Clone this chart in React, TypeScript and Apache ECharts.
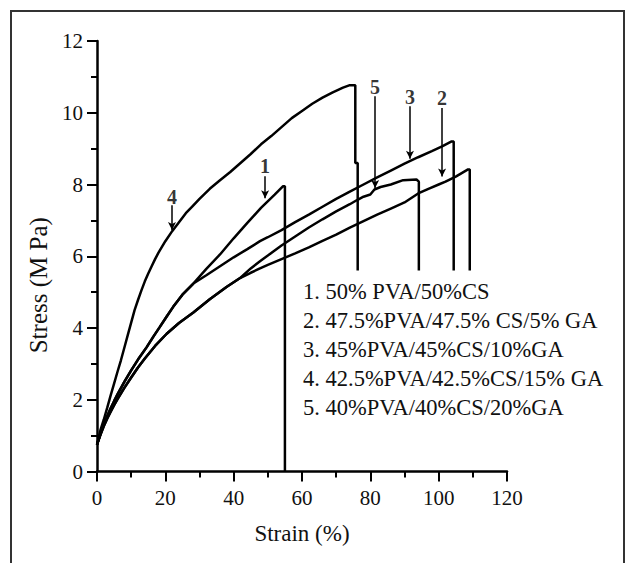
import { useEffect, useRef } from "react";
import * as echarts from "echarts";

// Stress (MPa) vs strain (%) curves
const curve1: [number, number][] = [
  [0, 0.75], [1, 1.05], [2, 1.32], [3, 1.55], [4, 1.76], [5, 1.96], [6, 2.15], [8, 2.5], [10, 2.82], [12, 3.12],
  [14.5, 3.46], [16.5, 3.76], [18.4, 4.03], [20.4, 4.32], [22.3, 4.59], [25, 4.93], [28.2, 5.24],
  [32, 5.65], [36, 6.05], [40, 6.5], [44, 6.93], [48, 7.35], [52, 7.72], [54.4, 7.95], [55, 7.95], [55, 0],
];
const curve2: [number, number][] = [
  [0, 0.75], [1, 1.02], [2, 1.27], [3, 1.48], [4, 1.67], [5, 1.85], [6, 2.02], [8, 2.33], [10, 2.62], [12, 2.9],
  [14, 3.15], [17, 3.5], [20.4, 3.84], [24, 4.14], [28.2, 4.43], [33, 4.8], [38, 5.15], [42, 5.4],
  [45, 5.54], [47.7, 5.66], [50, 5.76], [54, 5.92], [58, 6.08], [62, 6.25], [66, 6.43], [70, 6.6], [74, 6.8],
  [78, 6.98], [82, 7.16], [86, 7.33], [90, 7.5], [94, 7.75], [97, 7.88], [100, 8.0], [102, 8.08], [105, 8.22],
  [108.6, 8.42], [109.1, 8.42], [109.1, 5.6],
];
const curve3: [number, number][] = [
  [0, 0.75], [1, 1.05], [2, 1.32], [3, 1.55], [4, 1.76], [5, 1.96], [6, 2.15], [8, 2.5], [10, 2.82], [12, 3.12],
  [14.5, 3.46], [16.5, 3.76], [18.4, 4.03], [20.4, 4.32], [22.3, 4.59], [25, 4.93], [28.2, 5.24],
  [32, 5.47], [36, 5.72], [40, 5.97], [44, 6.2], [47.7, 6.42], [50, 6.53], [54, 6.73], [58, 6.95], [62, 7.16],
  [66, 7.38], [70, 7.6], [74, 7.8], [78, 8.0], [82, 8.2], [86, 8.39], [90, 8.58], [94, 8.76], [98, 8.93],
  [101, 9.06], [103.8, 9.2], [104.4, 9.2], [104.4, 5.6],
];
const curve4: [number, number][] = [
  [0, 0.75], [1, 1.15], [2, 1.45], [3, 1.78], [4, 2.12], [5, 2.45], [6, 2.78], [7, 3.1], [8, 3.45], [9, 3.8],
  [10, 4.15], [11, 4.5], [12, 4.78], [13, 5.05], [14, 5.3], [15, 5.52], [16, 5.72], [17, 5.92], [18, 6.1],
  [20, 6.42], [22, 6.7], [24, 6.95], [26, 7.2], [28, 7.4], [30, 7.6], [33, 7.88], [36, 8.12], [39, 8.35],
  [42, 8.6], [45, 8.85], [48, 9.12], [51, 9.35], [54, 9.6], [57, 9.85], [60, 10.05], [63, 10.25], [66, 10.42],
  [69, 10.57], [72, 10.7], [74, 10.77], [75.6, 10.77], [75.6, 8.6], [76.3, 8.6], [76.3, 5.6],
];
const curve5: [number, number][] = [
  [0, 0.75], [1, 1.02], [2, 1.27], [3, 1.48], [4, 1.67], [5, 1.85], [6, 2.02], [8, 2.33], [10, 2.62], [12, 2.9],
  [14, 3.15], [17, 3.5], [20.4, 3.84], [24, 4.14], [28.2, 4.43], [33, 4.8], [38, 5.15], [42, 5.4],
  [45, 5.66], [47.7, 5.86], [50, 6.02], [54, 6.3], [58, 6.55], [62, 6.8], [66, 7.03], [70, 7.25], [74, 7.45],
  [76, 7.56], [78, 7.66], [80, 7.72], [81.2, 7.86], [83, 7.93], [86, 8.0], [89.6, 8.12], [93.5, 8.14],
  [94.2, 8.08], [94.2, 5.6],
];

const curves = [curve1, curve2, curve3, curve4, curve5];

const legendLines = [
  "1. 50% PVA/50%CS",
  "2. 47.5%PVA/47.5% CS/5% GA",
  "3. 45%PVA/45%CS/10%GA",
  "4. 42.5%PVA/42.5%CS/15% GA",
  "5. 40%PVA/40%CS/20%GA",
];

// Curve number annotations with arrows
const annotationLabels = ["4", "1", "5", "3", "2"];
const annotationStrain = [21.95, 49.2, 81.4, 91.6, 101.0];
const annotationLabelStress = [7.65, 8.51, 10.71, 10.43, 10.4];
const arrowStartStress = [7.42, 8.23, 10.46, 10.18, 10.13];
const arrowTipStress = [6.73, 7.62, 7.9, 8.72, 8.22];

const SERIF = "Liberation Serif";

export default function App() {
  const ref = useRef<HTMLDivElement>(null);

  useEffect(() => {
    const chart = echarts.init(ref.current!, null, { renderer: "svg" });

    const lineSeries = curves.map((c, i) => ({
      name: legendLines[i],
      type: "line",
      data: c,
      showSymbol: false,
      symbol: "none",
      lineStyle: { color: "#000", width: 2.5 },
      z: 3,
    }));

    const option: any = {
      animation: false,
      backgroundColor: "#fff",
      textStyle: { fontFamily: SERIF },
      grid: { left: 97, right: 119, top: 41, bottom: 91.5, containLabel: false },
      xAxis: {
        type: "value",
        min: 0,
        max: 120,
        interval: 20,
        name: "Strain (%)",
        nameLocation: "middle",
        nameGap: 50,
        nameTextStyle: { fontFamily: SERIF, fontSize: 23, color: "#111" },
        axisLine: { show: true, onZero: false, lineStyle: { color: "#000", width: 2.5 } },
        axisTick: { show: true, length: 10, lineStyle: { color: "#000", width: 2 } },
        minorTick: { show: true, splitNumber: 2, length: 6, lineStyle: { color: "#000", width: 2 } },
        splitLine: { show: false },
        axisLabel: { fontFamily: SERIF, fontSize: 21, color: "#111", margin: 16 },
      },
      yAxis: {
        type: "value",
        min: 0,
        max: 12,
        interval: 2,
        name: "Stress (M Pa)",
        nameLocation: "middle",
        nameGap: 46,
        nameTextStyle: { fontFamily: SERIF, fontSize: 25, color: "#111", padding: [0, 58, 0, 0] },
        axisLine: { show: true, onZero: false, lineStyle: { color: "#000", width: 2.5 } },
        axisTick: { show: true, length: 10, lineStyle: { color: "#000", width: 2 } },
        minorTick: { show: true, splitNumber: 2, length: 6, lineStyle: { color: "#000", width: 2 } },
        splitLine: { show: false },
        axisLabel: { fontFamily: SERIF, fontSize: 21, color: "#111", margin: 14 },
      },
      series: [
        ...lineSeries,
        {
          type: "scatter",
          name: "annotations",
          symbol: "circle",
          symbolSize: 1,
          itemStyle: { color: "rgba(0,0,0,0)" },
          silent: true,
          z: 5,
          data: annotationLabels.map((t, i) => [annotationStrain[i], annotationLabelStress[i], t]),
          label: {
            show: true,
            position: "inside",
            formatter: (p: any) => p.value[2],
            fontFamily: SERIF,
            fontSize: 20,
            fontWeight: "bold",
            color: "#000",
          },
          markLine: {
            silent: true,
            animation: false,
            symbol: ["none", "arrow"],
            symbolSize: [6, 8],
            label: { show: false },
            lineStyle: { color: "#000", width: 1.5, type: "solid" },
            data: annotationLabels.map((_, i) => [
              { coord: [annotationStrain[i], arrowStartStress[i]] },
              { coord: [annotationStrain[i], arrowTipStress[i]] },
            ]),
          },
        },
      ],
      graphic: [
        {
          type: "rect",
          z: 0,
          silent: true,
          shape: { x: 11, y: 11, width: 613, height: 570 },
          style: { fill: "none", stroke: "#333", lineWidth: 2 },
        },
        ...legendLines.map((t, i) => ({
          type: "text",
          silent: true,
          z: 10,
          x: 303,
          y: 291 + i * 29,
          style: {
            text: t,
            fill: "#111",
            font: `22.5px "${SERIF}"`,
            verticalAlign: "middle",
            align: "left",
          },
        })),
      ],
    };

    chart.setOption(option);
    return () => chart.dispose();
  }, []);

  return (
    <div
      ref={ref}
      style={{ position: "fixed", left: 0, top: 0, width: 626, height: 563, background: "#fff" }}
    />
  );
}
